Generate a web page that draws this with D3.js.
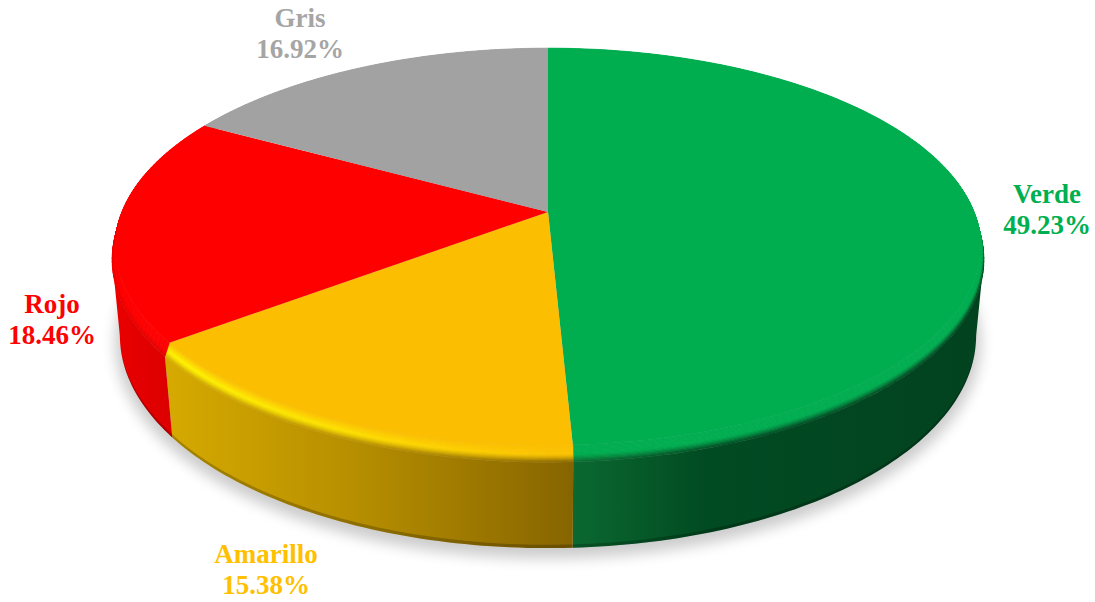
<!DOCTYPE html>
<html lang="es">
<head>
<meta charset="utf-8">
<title>Distribución por color</title>
<script src="https://cdn.jsdelivr.net/npm/d3@7/dist/d3.min.js"></script>
<style>
  html, body { margin: 0; padding: 0; background: #fff; }
  svg { display: block; }
  text { font-family: "Liberation Serif", serif; font-weight: bold; font-size: 27px; text-anchor: middle; }
</style>
</head>
<body>
<svg id="chart" width="1095" height="602"></svg>
<script>
// Slice values, in drawing order (clockwise from twelve o'clock)
const categories = ["Verde", "Amarillo", "Rojo", "Gris"];
const percentages = [49.23, 15.38, 18.46, 16.92];
const topColors = ["#00ae50", "#fcbe00", "#ff0000", "#a2a2a2"];
const labelColors = ["#00b050", "#ffc000", "#ff0000", "#a5a5a5"];
const glintColors = ["#00ae50", "#fff200", "#ff0000", "#a2a2a2"];
// Wall shading, from the left end of each slice's wall to its right end
const wallLeft = ["#0d6e33", "#d6aa00", "#ea0000", "#8a8a8a"];
const wallMid = ["#014b22", "#b48c00", "#df0000", "#8a8a8a"];
const wallRight = ["#02421f", "#866500", "#d40000", "#8a8a8a"];
const wallMidAt = [0.36, 0.5, 0.5, 0.5];
// Label anchors: centre x, first baseline
const labelX = [1047, 266, 52, 300];
const labelY = [203, 563, 313, 27];
const lineGap = 30.5;

// Camera model of the tilted disc
const centre = { x: 548, y: 212 };
const spreadX = 429.5, spreadY = 194, tilt = 0.184;
const drop = 87, dropScale = 0.02, bevelDepth = 0.124, bevelInset = 0.016;

function project(angle, radius, z) {
  const u = radius * Math.sin(angle), v = radius * Math.cos(angle);
  const w = 1 + tilt * v + dropScale * z;
  return [centre.x + spreadX * u / w, centre.y - (spreadY * v - drop * z) / w];
}

// Flat top's radius: full at the back, pulled in towards the viewer
const flatRadius = a => 1 - bevelInset * (1 - Math.cos(a)) / 2;

const svg = d3.select("#chart");
const defs = svg.append("defs");
const closed = d3.line().curve(d3.curveLinearClosed);

const slices = d3.pie().sort(null).value(d => d)(percentages);
const step = Math.PI / 180;
const arcAngles = (a0, a1, n) => d3.range(n + 1).map(i => a0 + (a1 - a0) * i / n);
const ring = d3.range(0, 360, 0.5).map(d => d * step);

// Part of an arc that faces the viewer at depth z, between the two silhouette points
function facingArc(a0, a1, z) {
  const right = ring[d3.greatestIndex(ring, a => project(a, 1, z)[0])];
  const left = ring[d3.leastIndex(ring, a => project(a, 1, z)[0])];
  const lo = Math.max(a0, right), hi = Math.min(a1, left);
  if (lo >= hi) return [];
  return arcAngles(lo, hi, Math.max(4, Math.round((hi - lo) / step)));
}

function wallBand(a0, a1, zTop, zBottom) {
  const upper = facingArc(a0, a1, zTop).map(a => project(a, 1, zTop));
  const lower = facingArc(a0, a1, zBottom).map(a => project(a, 1, zBottom)).reverse();
  return upper.length && lower.length ? closed(upper.concat(lower)) : null;
}

defs.append("filter").attr("id", "soft")
  .attr("x", "-10%").attr("y", "-10%").attr("width", "120%").attr("height", "125%")
  .append("feGaussianBlur").attr("stdDeviation", 7);

// Soft shadow under the base
const baseRing = d3.range(0, 360, 2).map(d => project(d * step, 1.012, 1.07));
svg.append("path").attr("d", closed(baseRing))
  .attr("fill", "#000").attr("opacity", 0.2).attr("filter", "url(#soft)");

// Wall colour at a given screen x for one slice
function wallScale(i, x0, x1) {
  return d3.scaleLinear().domain([x0, x0 + (x1 - x0) * wallMidAt[i], x1]).clamp(true)
    .range([wallLeft[i], wallMid[i], wallRight[i]])
    .interpolate(d3.interpolateRgb);
}

const groups = slices.map((s, i) => {
  const n = Math.max(4, Math.round((s.endAngle - s.startAngle) / step));
  const angles = arcAngles(s.startAngle, s.endAngle, n);
  const xs = angles.map(a => project(a, 1, bevelDepth)[0]);
  return { s, i, angles, x0: d3.min(xs), x1: d3.max(xs) };
});

// Outer walls
groups.forEach(({ s, i, x0, x1 }) => {
  const wall = wallBand(s.startAngle, s.endAngle, bevelDepth, 1);
  if (!wall) return;
  const id = "wall" + i;
  const scale = wallScale(i, x0, x1);
  const grad = defs.append("linearGradient").attr("id", id)
    .attr("gradientUnits", "userSpaceOnUse")
    .attr("x1", x0).attr("x2", x1).attr("y1", 0).attr("y2", 0);
  [0, wallMidAt[i], 1].forEach(o => grad.append("stop")
    .attr("offset", o).attr("stop-color", scale(x0 + (x1 - x0) * o)));
  svg.append("path").attr("d", wall).attr("fill", `url(#${id})`);
  // Darker lip along the bottom edge
  svg.append("path").attr("d", wallBand(s.startAngle, s.endAngle, 0.965, 1))
    .attr("fill", "#000").attr("opacity", 0.22);
});

// Rounded bevel between the flat top and the wall
const glintByAngle = d3.scaleLinear().domain([180, 205, 228]).range([0.12, 0.7, 1]).clamp(true);
const bandCount = 14;
groups.forEach(({ i, angles, x0, x1 }) => {
  const scale = wallScale(i, x0, x1);
  const g = svg.append("g");
  const at = (a, t) => project(a, flatRadius(a) + (1 - flatRadius(a)) * t, bevelDepth * t);
  d3.pairs(angles).forEach(([a0, a1]) => {
    const mid = (a0 + a1) / 2;
    const wall = scale(project(mid, 1, bevelDepth)[0]);
    const peak = d3.interpolateRgb(topColors[i], glintColors[i])(glintByAngle(mid / step));
    d3.range(bandCount).forEach(b => {
      const t0 = b / bandCount, t1 = (b + 1) / bandCount, t = (t0 + t1) / 2;
      const c = t < 0.55
        ? d3.interpolateRgb(topColors[i], peak)(t / 0.55)
        : d3.interpolateRgb(peak, wall)(Math.pow((t - 0.55) / 0.45, 1.3));
      const pts = [at(a0, t0), at(a1, t0), at(a1, t1), at(a0, t1)];
      g.append("path").attr("d", closed(pts)).attr("fill", c)
        .attr("stroke", c).attr("stroke-width", 0.7);
    });
  });
});

// Flat top faces
groups.forEach(({ i, angles }) => {
  const rim = angles.map(a => project(a, flatRadius(a), 0));
  svg.append("path").attr("d", closed([[centre.x, centre.y]].concat(rim)))
    .attr("fill", topColors[i]);
});

// Two-line labels
const label = svg.append("g").selectAll("text").data(categories).join("text")
  .attr("x", (d, i) => labelX[i])
  .attr("y", (d, i) => labelY[i])
  .attr("fill", (d, i) => labelColors[i]);
label.append("tspan").text(d => d);
label.append("tspan")
  .attr("x", (d, i) => labelX[i])
  .attr("dy", lineGap)
  .text((d, i) => d3.format(".2f")(percentages[i]) + "%");
</script>
</body>
</html>
